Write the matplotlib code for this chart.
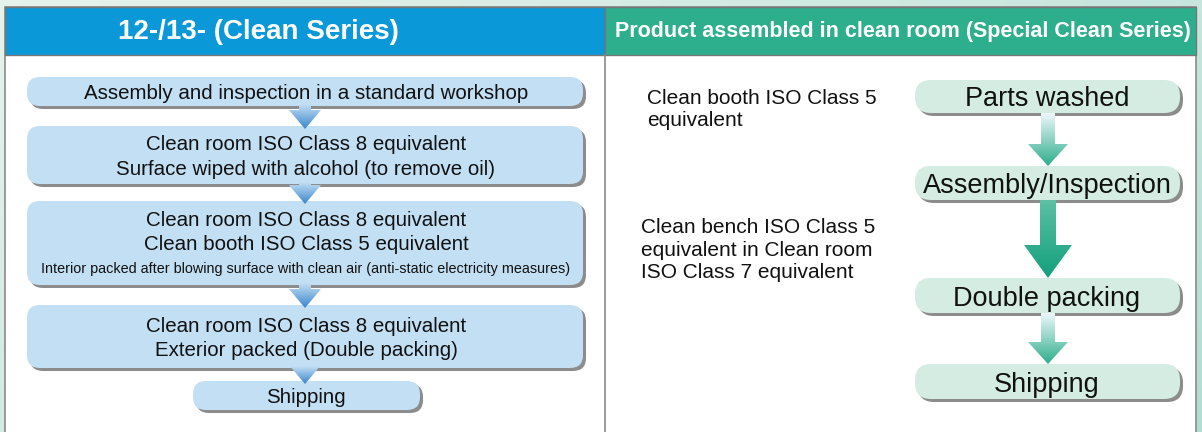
import numpy as np
import matplotlib
matplotlib.use("Agg")
import matplotlib.pyplot as plt
from matplotlib.patches import FancyBboxPatch, Rectangle, Polygon

# --- content ---
left_title = "12-/13- (Clean Series)"
right_title = "Product assembled in clean room (Special Clean Series)"

left_steps = [
    ["Assembly and inspection in a standard workshop"],
    ["Clean room ISO Class 8 equivalent", "Surface wiped with alcohol (to remove oil)"],
    ["Clean room ISO Class 8 equivalent", "Clean booth ISO Class 5 equivalent",
     "Interior packed after blowing surface with clean air (anti-static electricity measures)"],
    ["Clean room ISO Class 8 equivalent", "Exterior packed (Double packing)"],
    ["Shipping"],
]
right_steps = ["Parts washed", "Assembly/Inspection", "Double packing", "Shipping"]
right_notes = ["Clean booth ISO Class 5\nequivalent",
               "Clean bench ISO Class 5\nequivalent in Clean room\nISO Class 7 equivalent"]

plt.rcParams['font.family'] = ['Liberation Sans', 'DejaVu Sans']

fig = plt.figure(figsize=(12.02, 4.32), dpi=100)
ax = fig.add_axes([0, 0, 1, 1])
ax.set_xlim(0, 1202)
ax.set_ylim(432, 0)
ax.axis('off')

# фон с лёгким градиентом
gx, gy = np.meshgrid(np.linspace(0, 1, 60), np.linspace(0, 1, 30))
bg = np.clip(1 - gx * 0.3 - gy * 0.2, 0, 1)
cmap_bg = matplotlib.colors.LinearSegmentedColormap.from_list("bg", ["#b2ddd3", "#e6f3ec"])
ax.imshow(bg, extent=(0, 1202, 432, 0), cmap=cmap_bg, aspect='auto', zorder=0)

# панели и заголовки
ax.add_patch(Rectangle((5, 7), 1191, 430, fc='white', ec='#8a8a8a', lw=1.2, zorder=1))
ax.add_patch(Rectangle((5, 7), 600, 48, fc='#0a98d8', ec='#777777', lw=1.0, zorder=2))
ax.add_patch(Rectangle((605, 7), 591, 48, fc='#2dae8c', ec='#777777', lw=1.0, zorder=2))
ax.plot([605, 605], [55, 432], color='#8a8a8a', lw=1.2, zorder=2)

ax.text(258, 32, left_title, color='white', fontsize=20, fontweight='bold',
        ha='center', va='center', zorder=3)
ax.text(903, 32, right_title, color='white', fontsize=15.5, fontweight='bold',
        ha='center', va='center', zorder=3)


def rbox(x0, y0, x1, y1, fc, r):
    ax.add_patch(FancyBboxPatch((x0 + 3, y0 + 3), x1 - x0, y1 - y0,
                                boxstyle=f"round,pad=0,rounding_size={r}",
                                fc='#8c8c8c', ec='none', zorder=3))
    ax.add_patch(FancyBboxPatch((x0, y0), x1 - x0, y1 - y0,
                                boxstyle=f"round,pad=0,rounding_size={r}",
                                fc=fc, ec='none', zorder=4))


def arrow(cx, y0, y1, shaft, head, hlen, c_top, c_bot, z=5):
    pts = [(cx - shaft / 2, y0), (cx + shaft / 2, y0), (cx + shaft / 2, y1 - hlen),
           (cx + head / 2, y1 - hlen), (cx, y1), (cx - head / 2, y1 - hlen),
           (cx - shaft / 2, y1 - hlen)]
    poly = Polygon(pts, closed=True, fc='none', ec='none', zorder=z)
    ax.add_patch(poly)
    cm = matplotlib.colors.LinearSegmentedColormap.from_list("a", [c_top, c_bot])
    grad = np.linspace(0, 1, 100).reshape(-1, 1)
    im = ax.imshow(grad, extent=(cx - head / 2, cx + head / 2, y1, y0), cmap=cm,
                   aspect='auto', zorder=z)
    im.set_clip_path(poly)


# левая схема
left_rows = [(77, 106), (126, 184), (201, 285), (305, 368), (381, 410)]
left_x = [(27, 583), (27, 583), (27, 583), (27, 583), (193, 420)]
for i, lines in enumerate(left_steps):
    y0, y1 = left_rows[i]
    x0, x1 = left_x[i]
    rbox(x0, y0, x1, y1, '#c3dff4', 13)
    n = len(lines)
    step = 25
    cy = (y0 + y1) / 2
    for j, t in enumerate(lines):
        yy = cy + (j - (n - 1) / 2) * step
        if len(t) > 60:
            ax.text(306, yy, t, fontsize=10.4, ha='center', va='center_baseline',
                    color='#111111', zorder=6)
        else:
            ax.text(306, yy, t, fontsize=14.8, ha='center', va='center_baseline',
                    color='#111111', zorder=6)
    if i < len(left_steps) - 1:
        arrow(305, y1 - 2, left_rows[i + 1][0] + 3, 12, 32, 19, '#c3dff4', '#3a86cc')

# правая схема
right_rows = [(80, 113), (166, 200), (278, 313), (364, 399)]
for i, t in enumerate(right_steps):
    y0, y1 = right_rows[i]
    rbox(915, y0, 1180, y1, '#d4ece2', 16)
    ax.text(1047, (y0 + y1) / 2, t, fontsize=19.5, ha='center', va='center_baseline',
            color='#111111', zorder=6)

arrow(1048, 113, 166, 14, 40, 22, '#eef7fb', '#2dae8c')
arrow(1048, 200, 278, 16, 48, 33, '#5cc0a5', '#13a07c')
arrow(1048, 313, 364, 14, 40, 22, '#eef7fb', '#2dae8c')

ax.text(647, 109, right_notes[0], fontsize=15, ha='left', va='center',
        color='#111111', linespacing=1.2, zorder=6)
ax.text(641, 250, right_notes[1], fontsize=15, ha='left', va='center',
        color='#111111', linespacing=1.22, zorder=6)

fig.savefig("out.png", dpi=100)
